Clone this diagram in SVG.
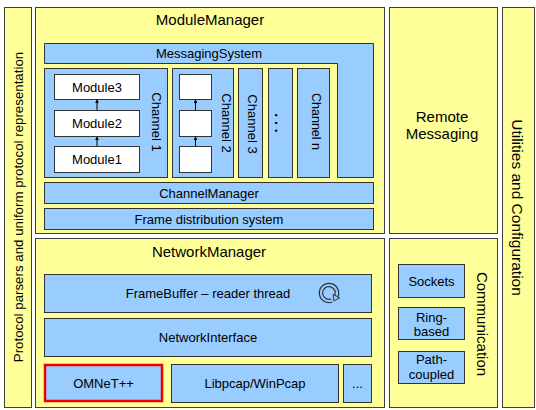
<svg xmlns="http://www.w3.org/2000/svg" width="536" height="410" viewBox="0 0 536 410">
<style>
text{font-family:"Liberation Sans",Arial,sans-serif;fill:#000}
.p{fill:#ffff99;stroke:#404040;stroke-width:1}
.b{fill:#99ccff;stroke:#333;stroke-width:1}
.w{fill:#fff;stroke:#333;stroke-width:1}
.r{fill:#99ccff;stroke:#ee0000;stroke-width:2.5}
.t15{font-size:15px}
.t13{font-size:13px}
.c{text-anchor:middle}
.v{text-anchor:middle;dominant-baseline:central}
.a{stroke:#000;stroke-width:1;fill:none}
</style>
<defs>
<marker id="ah" viewBox="0 0 6 6" refX="5" refY="3" markerWidth="4" markerHeight="4" orient="auto"><path d="M0,0 L6,3 L0,6 Z" fill="#000"/></marker>
</defs>
<rect width="536" height="410" fill="#fff"/>

<g id="protocol-parsers">
<rect class="p" x="4.5" y="7.5" width="27" height="400"/>
<text class="v" font-size="13.3" transform="translate(18.5,207) rotate(-90)">Protocol parsers and uniform protocol representation</text>
</g>

<g id="module-manager">
<rect class="p" x="35.5" y="7.5" width="349" height="226"/>
<text class="t15 c" x="210" y="25">ModuleManager</text>
</g>

<g id="messaging-system">
<polygon class="b" points="44.5,43.5 373.5,43.5 373.5,177.5 337.5,177.5 337.5,63.5 44.5,63.5"/>
<text class="t13 c" x="209" y="58">MessagingSystem</text>
</g>

<g id="channel-1">
<rect class="b" x="44.5" y="68.5" width="123" height="109"/>
<text class="t13 v" transform="translate(156,122) rotate(90)">Channel 1</text>
</g>
<g id="module3">
<rect class="w" x="54.5" y="74.5" width="85" height="25"/>
<text class="t13 c" x="97" y="91.5">Module3</text>
</g>
<g id="module2">
<rect class="w" x="54.5" y="110.5" width="85" height="26"/>
<text class="t13 c" x="97" y="128">Module2</text>
</g>
<g id="module1">
<rect class="w" x="54.5" y="146.5" width="85" height="26"/>
<text class="t13 c" x="97" y="164">Module1</text>
</g>

<g id="channel-2">
<rect class="b" x="172.5" y="68.5" width="61" height="109"/>
<text class="t13 v" transform="translate(226,123) rotate(90)">Channel 2</text>
</g>
<g id="ch2-box3"><rect class="w" x="179.5" y="74.5" width="32" height="25"/></g>
<g id="ch2-box2"><rect class="w" x="179.5" y="110.5" width="32" height="26"/></g>
<g id="ch2-box1"><rect class="w" x="179.5" y="146.5" width="32" height="26"/></g>

<g id="channel-3">
<rect class="b" x="238.5" y="68.5" width="24" height="109"/>
<text class="t13 v" transform="translate(252,124) rotate(90)">Channel 3</text>
</g>
<g id="channel-dots">
<rect class="b" x="268.5" y="68.5" width="24" height="109"/>
<text class="v" font-size="14" font-weight="bold" transform="translate(280,123) rotate(90)">. . .</text>
</g>
<g id="channel-n">
<rect class="b" x="297.5" y="68.5" width="32" height="109"/>
<text class="v" font-size="12.5" transform="translate(315.5,121.5) rotate(90)">Channel n</text>
</g>

<g id="channel-manager">
<rect class="b" x="44.5" y="182.5" width="329" height="21"/>
<text class="t13 c" x="209" y="197.5">ChannelManager</text>
</g>
<g id="frame-distribution">
<rect class="b" x="44.5" y="208.5" width="329" height="21"/>
<text class="t13 c" x="209" y="223.5">Frame distribution system</text>
</g>

<g id="remote-messaging">
<rect class="p" x="389.5" y="7.5" width="108" height="226"/>
<text class="t15 c" x="442" y="122">Remote</text>
<text class="t15 c" x="442" y="139">Messaging</text>
</g>

<g id="utilities">
<rect class="p" x="502.5" y="7.5" width="32" height="400"/>
<text class="v" font-size="15.5" transform="translate(517,207.5) rotate(90)">Utilities and Configuration</text>
</g>

<g id="network-manager">
<rect class="p" x="35.5" y="238.5" width="349" height="169"/>
<text class="t15 c" x="209" y="257">NetworkManager</text>
</g>

<g id="framebuffer">
<rect class="b" x="44.5" y="274.5" width="327" height="38"/>
<text class="t13 c" x="208" y="298">FrameBuffer – reader thread</text>
<path d="M331.7,300.5 A8,8 0 1 1 335.9,297" fill="none" stroke="#333" stroke-width="4.5"/>
<path d="M331.7,300.5 A8,8 0 1 1 335.9,297" fill="none" stroke="#99ccff" stroke-width="2"/>
<polygon points="333.9,301 339.6,297.9 333.2,294.3" fill="#99ccff" stroke="#333" stroke-width="1"/>
</g>

<g id="network-interface">
<rect class="b" x="44.5" y="318.5" width="327" height="38"/>
<text class="t13 c" x="208" y="342">NetworkInterface</text>
</g>

<g id="omnet">
<rect class="r" x="45" y="365" width="117" height="36"/>
<text class="t13 c" x="103.5" y="388">OMNeT++</text>
</g>
<g id="libpcap">
<rect class="b" x="171.5" y="364.5" width="167" height="38"/>
<text class="t13 c" x="255" y="388">Libpcap/WinPcap</text>
</g>
<g id="more-interfaces">
<rect class="b" x="343.5" y="364.5" width="28" height="38"/>
<text class="t13 c" x="357.5" y="388">...</text>
</g>

<g id="communication">
<rect class="p" x="389.5" y="238.5" width="108" height="169"/>
<text class="t15 v" transform="translate(482,324) rotate(90)">Communication</text>
</g>
<g id="sockets">
<rect class="b" x="398.5" y="264.5" width="66" height="33"/>
<text class="t13 c" x="431.5" y="286">Sockets</text>
</g>
<g id="ring-based">
<rect class="b" x="398.5" y="307.5" width="66" height="32"/>
<text class="t13 c" x="431.5" y="322">Ring-</text>
<text class="t13 c" x="431.5" y="336">based</text>
</g>
<g id="path-coupled">
<rect class="b" x="398.5" y="351.5" width="66" height="32"/>
<text class="t13 c" x="431.5" y="364">Path-</text>
<text class="t13 c" x="431.5" y="379">coupled</text>
</g>

<g id="connectors">
<line class="a" x1="97" y1="146" x2="97" y2="137" marker-end="url(#ah)"/>
<line class="a" x1="97" y1="110" x2="97" y2="100" marker-end="url(#ah)"/>
<line class="a" x1="195.5" y1="146" x2="195.5" y2="137" marker-end="url(#ah)"/>
<line class="a" x1="195.5" y1="110" x2="195.5" y2="100" marker-end="url(#ah)"/>
</g>
</svg>
